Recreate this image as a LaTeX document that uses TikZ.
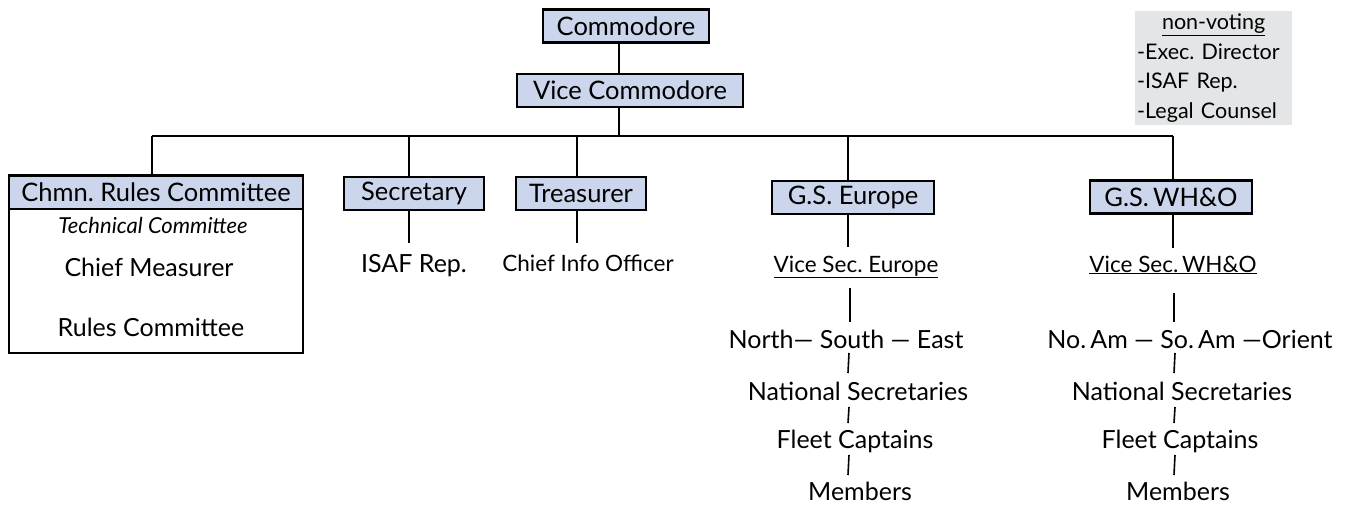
\documentclass[tikz,border=0pt]{standalone}
\usepackage{fontspec}
\setmainfont{Lato}
\frenchspacing
\begin{document}
\begin{tikzpicture}[x=1pt,y=-1pt,
  box/.style={draw=black, line width=2.4pt, fill=boxblue, inner sep=0pt,
    minimum height=33pt, font=\fontsize{25.5}{28}\selectfont},
  label/.style={inner sep=1pt, font=\fontsize{25}{28}\selectfont},
  small/.style={inner sep=1pt, font=\fontsize{22.5}{26}\selectfont},
  link/.style={line width=1.8pt},
  tick/.style={line width=1.6pt}]
\definecolor{boxblue}{HTML}{CBD5EC}
\definecolor{notegrey}{HTML}{E4E5E7}
\useasboundingbox (0,0) rectangle (1350,508);

% top of the chart
\node[box, minimum width=166pt] (com) at (626,26) {Commodore};
\node[box, minimum width=226pt] (vc) at (630,90.5) {Vice Commodore};
\coordinate (trunk) at (619,136);
\draw[link] (com.south -| trunk) -- (vc.north -| trunk);
\draw[link] (vc.south -| trunk) -- (trunk);

% branch points on the bus
\coordinate (b1) at (152,136);
\coordinate (b2) at (409,136);
\coordinate (b3) at (577,136);
\coordinate (b4) at (848,136);
\coordinate (b5) at (1173,136);
\draw[link] (b1) -- (b5);

% rules committee group
\draw[line width=2.4pt] (9,175) rectangle (303,353);
\node[box, minimum width=294pt, anchor=north] (chmn) at (156,175) {Chmn. Rules Committee};
\node[inner sep=1pt, font=\fontsize{22}{24}\selectfont\itshape] (tech) at (153,225) {Technical Committee};
\node[label] (meas) at (149,267) {Chief Measurer};
\node[label] (rules) at (151,327) {Rules Committee};
\draw[link] (b1) -- (chmn.north -| b1);

% secretary and treasurer
\node[box, minimum width=140pt] (sec) at (414,193.5) {Secretary};
\node[box, minimum width=130pt] (tre) at (581,193.5) {Treasurer};
\node[label, anchor=base] (isaf) at (414,272) {ISAF Rep.};
\node[small, anchor=base] (cio) at (588,271) {Chief Info Officer};
\draw[link] (b2) -- (sec.north -| b2);
\draw[link] (b3) -- (tre.north -| b3);
\coordinate (s2) at (409,243);
\coordinate (t2) at (577,243);
\draw[link] (sec.south -| s2) -- (s2);
\draw[link] (tre.south -| t2) -- (t2);

% general secretary Europe
\node[box, minimum width=162pt] (gse) at (853,197.5) {G.S. Europe};
\draw[link] (b4) -- (gse.north -| b4);
\node[small, anchor=base] (vse) at (856,272) {\underline{Vice Sec. Europe}};
\coordinate (e1) at (848,247);
\draw[link] (gse.south -| e1) -- (e1);
\node[label, anchor=base] (nse) at (846,348) {North— South — East};
\node[label, anchor=base] (nate) at (858,400) {National Secretaries};
\node[label, anchor=base] (flte) at (855,448) {Fleet Captains};
\node[label, anchor=base] (meme) at (860,500) {Members};
\coordinate (e2) at (850,288); \coordinate (e3) at (850,322);
\draw[link] (e2) -- (e3);
\coordinate (e4) at (849,353); \coordinate (e5) at (848,373);
\draw[tick] (e4) -- (e5);
\coordinate (e6) at (849,407); \coordinate (e7) at (848,423);
\draw[tick] (e6) -- (e7);
\coordinate (e8) at (849,455); \coordinate (e9) at (848,475);
\draw[tick] (e8) -- (e9);

% general secretary WH&O
\node[box, minimum width=162pt] (gsw) at (1171,197) {G.S.\,WH\&O};
\draw[link] (b5) -- (gsw.north -| b5);
\node[small, anchor=base] (vsw) at (1173,272) {\underline{Vice Sec.\,WH\&O}};
\coordinate (w1) at (1173,248);
\draw[link] (gsw.south -| w1) -- (w1);
\node[label, anchor=base] (nsw) at (1190,348) {No.\,Am — So.\,Am —Orient};
\node[label, anchor=base] (natw) at (1182,400) {National Secretaries};
\node[label, anchor=base] (fltw) at (1180,448) {Fleet Captains};
\node[label, anchor=base] (memw) at (1178,500) {Members};
\coordinate (w2) at (1174,293); \coordinate (w3) at (1174,322);
\draw[link] (w2) -- (w3);
\coordinate (w4) at (1175,353); \coordinate (w5) at (1174,373);
\draw[tick] (w4) -- (w5);
\coordinate (w6) at (1175,407); \coordinate (w7) at (1174,423);
\draw[tick] (w6) -- (w7);
\coordinate (w8) at (1175,455); \coordinate (w9) at (1174,475);
\draw[tick] (w8) -- (w9);

% non-voting members
\node[fill=notegrey, anchor=north west, inner xsep=2pt, inner ysep=3pt,
  text width=153pt, align=left, font=\fontsize{21.5}{29.5}\selectfont] (nv) at (1135,11)
  {\makebox[\linewidth]{\underline{non-voting}}\\
   -Exec. Director\\
   -ISAF Rep.\\
   -Legal Counsel};
\end{tikzpicture}
\end{document}
